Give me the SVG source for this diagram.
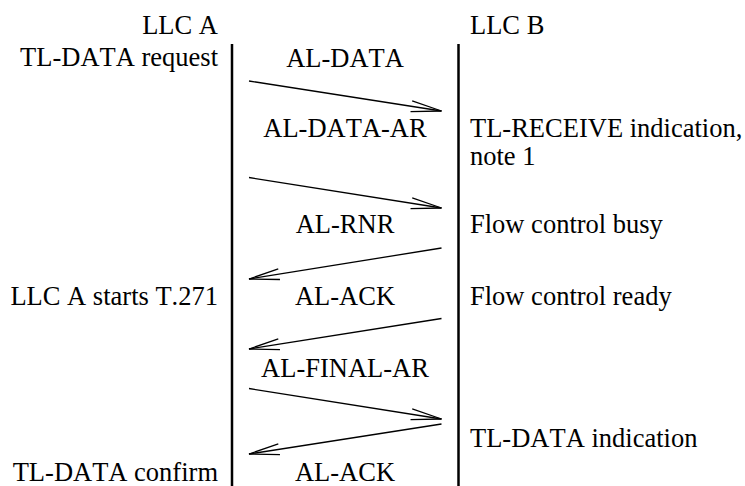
<svg xmlns="http://www.w3.org/2000/svg" width="745" height="486" viewBox="0 0 745 486">
<defs>
<style>
.t{font-family:'Times New Roman','Liberation Serif',Tinos,'DejaVu Serif',serif;font-size:26.5px;fill:#000;font-kerning:none;font-feature-settings:"kern" 0}
.l{text-anchor:end}
.m{text-anchor:middle}
.life{stroke:#000;stroke-width:2.5;fill:none}
.msg{stroke:#000;stroke-width:1.3;fill:none;marker-end:url(#ah)}
</style>
<marker id="ah" markerUnits="userSpaceOnUse" viewBox="-32 -7 34 14" refX="0" refY="0" markerWidth="34" markerHeight="14" orient="auto" overflow="visible">
<path d="M-30.5,-5.4 L0,0 L-30.5,5.4" fill="none" stroke="#000" stroke-width="1.3"/>
</marker>
</defs>
<rect width="745" height="486" fill="#fff"/>
<g id="llcA">
<text class="t l" x="218" y="34">LLC A</text>
<line class="life" x1="232" y1="44" x2="232" y2="486"/>
</g>
<g id="llcB">
<text class="t" x="470" y="34">LLC B</text>
<line class="life" x1="458.5" y1="44" x2="458.5" y2="486"/>
</g>
<g id="labelsA">
<text class="t l" x="218" y="66">TL-DATA request</text>
<text class="t l" x="218" y="305">LLC A starts T.271</text>
<text class="t l" x="218" y="481">TL-DATA confirm</text>
</g>
<g id="labelsB">
<text class="t" x="470" y="137">TL-RECEIVE indication,</text>
<text class="t" x="470" y="165">note 1</text>
<text class="t" x="470" y="233">Flow control busy</text>
<text class="t" x="470" y="305">Flow control ready</text>
<text class="t" x="470" y="447">TL-DATA indication</text>
</g>
<g id="messageLabels">
<text class="t m" x="345" y="67">AL-DATA</text>
<text class="t m" x="345" y="137">AL-DATA-AR</text>
<text class="t m" x="345" y="233">AL-RNR</text>
<text class="t m" x="345" y="305">AL-ACK</text>
<text class="t m" x="345" y="377">AL-FINAL-AR</text>
<text class="t m" x="345" y="481">AL-ACK</text>
</g>
<g id="connectors">
<line class="msg" x1="249" y1="81" x2="441.5" y2="111"/>
<line class="msg" x1="249" y1="177.5" x2="441.5" y2="208"/>
<line class="msg" x1="441.5" y1="248" x2="249" y2="279"/>
<line class="msg" x1="441.5" y1="318.5" x2="249" y2="349"/>
<line class="msg" x1="249" y1="388.5" x2="441.5" y2="419"/>
<line class="msg" x1="441.5" y1="424" x2="249" y2="454"/>
</g>
</svg>
